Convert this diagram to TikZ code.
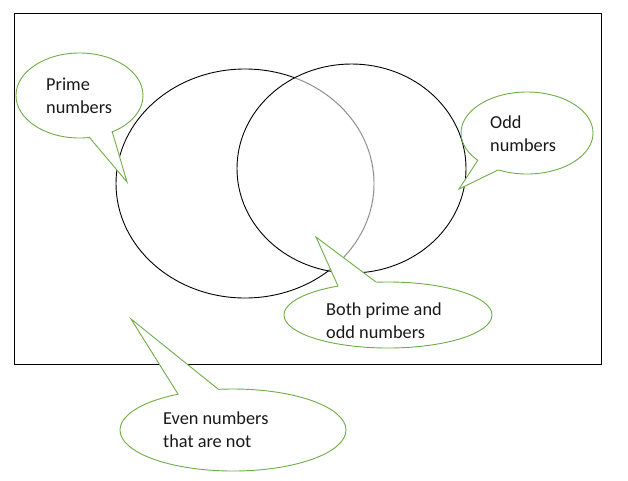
\documentclass[tikz,border=0pt]{standalone}
\usepackage{fontspec}
\setmainfont{Carlito}
\usetikzlibrary{shapes.geometric}
\definecolor{callgreen}{HTML}{70AD47}
\tikzset{
  venn/.style={draw=black, line width=0.9pt, ellipse, inner sep=0pt, fill=none},
  bubble/.style={draw=callgreen, line width=0.9pt, ellipse, inner sep=0pt},
  tail/.style={draw=callgreen, line width=0.9pt, line join=miter},
  label/.style={anchor=base west, inner sep=0pt, align=left,
    font=\fontsize{18.3}{23}\selectfont, text=black!90}
}
\newcommand{\mycallout}[8]{%
  % #1 name, #2 center, #3 width, #4 height, #5 b1, #6 tip, #7 b2
  \node[bubble, minimum width=#3, minimum height=#4] (#1) at #2 {};
  \coordinate (#1b1) at #5;
  \coordinate (#1tip) at #6;
  \coordinate (#1b2) at #7;
  \fill[white] (#1b1) -- (#1tip) -- (#1b2) -- (#1.center) -- cycle;
  \draw[tail] (#1b1) -- (#1tip) -- (#1b2);
}
\begin{document}
\begin{tikzpicture}[x=1pt, y=-1pt]
  \useasboundingbox (0,0) rectangle (628,480);
  \fill[white] (0,0) rectangle (628,480);
  % frame
  \node[draw=black, line width=1.1pt, minimum width=587pt, minimum height=350.5pt, inner sep=0pt, anchor=north west] (frame) at (14.3,13) {};
  % Venn ellipses
  \node[venn, minimum width=258pt, minimum height=229pt] (L) at (245,183.5) {};
  \begin{scope}
    \clip (351.5,168.5) ellipse [x radius=114.5pt, y radius=104.5pt];
    \draw[white, line width=1.8pt] (245,183.5) ellipse [x radius=129pt, y radius=114.5pt];
    \draw[black!45, line width=0.9pt] (245,183.5) ellipse [x radius=129pt, y radius=114.5pt];
  \end{scope}
  \node[venn, minimum width=229pt, minimum height=209pt] (R) at (351.5,168.5) {};
  % callouts
  \mycallout{P}{(79.5,95.5)}{127pt}{85pt}{(89,137)}{(127,182)}{(112,131)}{}
  \mycallout{O}{(527,133)}{132pt}{82pt}{(478,160)}{(459,189)}{(498,170)}{}
  \mycallout{B}{(388,315)}{208pt}{66pt}{(338,286)}{(316,237)}{(376,282)}{}
  \mycallout{E}{(233,430)}{226pt}{82pt}{(178,394)}{(131,319)}{(218,389)}{}
  % texts (anchor base = baseline of last line)
  \node[label] (Pt) at (46,113) {Prime\\numbers};
  \node[label] (Ot) at (490,151) {Odd\\numbers};
  \node[label] (Bt) at (326,338.5) {Both prime and\\odd numbers};
  \node[label] (Et) at (163,447) {Even numbers\\that are not};
\end{tikzpicture}
\end{document}
